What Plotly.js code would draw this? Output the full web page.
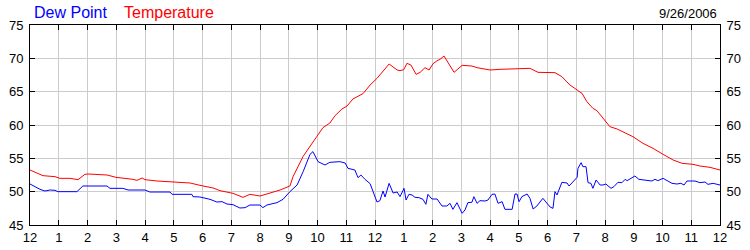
<!DOCTYPE html>
<html>
<head>
<meta charset="utf-8">
<script src="https://cdn.plot.ly/plotly-3.0.1.min.js"></script>
<style>html,body{margin:0;padding:0;background:#fff;}#chart{width:750px;height:250px;}</style>
</head>
<body>
<div id="chart"></div>
<script>
// Hour-of-day tick labels
const hourTicks = [0,1,2,3,4,5,6,7,8,9,10,11,12,13,14,15,16,17,18,19,20,21,22,23,24];
const hourLabels = ["12","1","2","3","4","5","6","7","8","9","10","11","12","1","2","3","4","5","6","7","8","9","10","11","12"];
const yTicks = [45,50,55,60,65,70,75];

// Temperature (°F) — time in hours since midnight
const tempHours = [0,0.45,0.87,1.04,1.39,1.67,1.91,2.02,2.68,2.99,3.58,3.72,3.90,4.00,4.42,4.97,5.57,5.91,6.37,6.61,7.06,7.41,7.65,8.00,8.35,8.70,9.04,9.15,9.50,9.74,9.98,10.19,10.43,10.61,10.85,11.03,11.23,11.58,11.83,12.07,12.17,12.49,12.77,12.87,13.00,13.11,13.25,13.43,13.57,13.74,13.88,14.02,14.16,14.26,14.40,14.61,14.75,15.03,15.37,15.55,16.00,16.35,16.70,17.04,17.39,17.67,18.02,18.26,18.50,18.78,19.03,19.20,19.37,19.58,19.72,19.93,20.17,20.42,20.63,20.97,21.32,21.67,22.02,22.37,22.68,23.06,23.30,23.65,24.00];
const tempValues = [53.25,52.4,52.25,52.0,52.0,51.8,52.6,52.65,52.5,52.15,51.85,51.7,52.05,51.8,51.6,51.45,51.3,50.95,50.55,50.15,49.75,49.15,49.6,49.35,49.75,50.25,50.85,52.25,55.3,56.9,58.3,59.6,60.3,61.4,62.4,62.85,63.9,64.7,66.0,67.0,67.5,69.15,68.25,68.15,68.3,69.25,69.0,67.6,67.9,68.6,68.25,69.2,69.65,69.85,70.35,68.75,67.9,68.95,68.85,68.6,68.25,68.35,68.4,68.5,68.5,67.9,67.9,67.85,67.25,66.0,65.25,64.75,63.5,62.5,62.15,61.0,59.75,59.4,59.0,58.25,57.25,56.5,55.6,54.75,54.25,54.1,53.85,53.65,53.25];

// Dew point (°F)
const dewHours = [0,0.35,0.52,0.70,0.87,0.97,1.63,1.84,2.68,2.78,3.23,3.41,4.00,4.17,4.87,4.94,5.63,5.67,5.91,6.26,6.50,6.68,6.85,7.06,7.30,7.48,7.65,8.00,8.10,8.24,8.59,8.80,9.04,9.29,9.50,9.74,9.84,10.02,10.26,10.43,10.78,10.96,11.06,11.20,11.30,11.41,11.51,11.65,11.83,12.07,12.17,12.28,12.35,12.49,12.63,12.77,12.87,13.01,13.08,13.18,13.29,13.39,13.53,13.67,13.77,13.84,13.98,14.16,14.33,14.50,14.61,14.71,14.85,15.03,15.13,15.23,15.37,15.44,15.55,15.65,15.83,15.93,16.07,16.17,16.28,16.42,16.52,16.77,16.80,16.87,16.94,17.01,17.11,17.29,17.39,17.50,17.63,17.84,18.09,18.19,18.26,18.33,18.50,18.68,18.75,18.89,19.03,19.06,19.17,19.23,19.34,19.41,19.51,19.58,19.69,19.83,19.93,20.03,20.21,20.31,20.45,20.59,20.70,20.77,20.94,21.04,21.18,21.43,21.63,21.74,21.84,22.02,22.16,22.33,22.50,22.64,22.75,22.85,23.13,23.30,23.48,23.58,23.76,24.00];
const dewValues = [51.15,50.35,50.1,50.25,50.2,50.0,50.0,50.85,50.85,50.5,50.5,50.25,50.25,49.95,49.95,49.6,49.6,49.25,49.2,48.85,48.45,48.5,48.15,48.05,47.55,47.6,48.0,48.0,47.6,48.0,48.35,48.85,50.0,51.0,53.0,55.6,56.0,54.5,54.0,54.4,54.5,54.3,53.5,53.4,53.25,52.1,52.5,51.85,51.2,48.45,48.65,50.1,49.2,51.25,49.8,49.95,49.25,50.5,48.75,49.6,49.5,49.15,49.1,48.85,48.1,49.6,48.9,48.9,47.85,47.85,48.25,47.35,48.35,46.75,47.25,48.35,48.4,49.25,48.25,48.65,48.6,48.75,49.6,49.65,48.25,48.5,47.35,47.35,48.0,49.65,49.65,48.5,49.25,49.65,49.0,47.4,47.85,49.0,47.7,47.5,50.0,49.5,51.4,51.3,50.85,51.5,52.15,53.5,54.35,53.75,53.75,51.35,51.25,50.5,51.75,51.0,51.0,51.15,50.5,50.75,51.4,51.35,51.85,51.65,52.15,52.35,51.85,51.75,51.6,51.85,51.65,52.0,51.65,51.25,51.15,51.25,51.0,51.6,51.6,51.35,51.45,51.1,51.25,51.0];

const chartDate = "9/26/2006";
const seriesNames = ["Dew Point", "Temperature"];
const seriesColors = ["#0000ff", "#ff0000"];

const fontFam = '"Liberation Sans", Arial, sans-serif';

const traces = [
  {x: dewHours, y: dewValues, type: 'scatter', mode: 'lines', name: seriesNames[0],
   line: {color: seriesColors[0], width: 1}, xaxis: 'x', yaxis: 'y', hoverinfo: 'skip'},
  {x: tempHours, y: tempValues, type: 'scatter', mode: 'lines', name: seriesNames[1],
   line: {color: seriesColors[1], width: 1}, xaxis: 'x', yaxis: 'y2', hoverinfo: 'skip'}
];

const yCommon = {
  range: [45, 75], tickvals: yTicks, ticks: 'inside', ticklen: 5, tickcolor: '#000',
  showline: true, linecolor: '#000', linewidth: 1, zeroline: false,
  tickfont: {family: fontFam, size: 13, color: '#000'}, fixedrange: true
};

const layout = {
  width: 750, height: 250,
  margin: {l: 30, r: 30, t: 25, b: 25, pad: 0},
  paper_bgcolor: '#fff', plot_bgcolor: '#fff',
  showlegend: false, hovermode: false,
  font: {family: fontFam, size: 13, color: '#000'},
  xaxis: {
    range: [0, 24], tickvals: hourTicks, ticktext: hourLabels,
    ticks: 'inside', ticklen: 5, tickcolor: '#000',
    showline: true, linecolor: '#000', linewidth: 1, mirror: 'ticks',
    showgrid: true, gridcolor: '#cccccc', gridwidth: 1, zeroline: false,
    tickfont: {family: fontFam, size: 13, color: '#000'}, fixedrange: true
  },
  yaxis: Object.assign({}, yCommon, {side: 'left', showgrid: true, gridcolor: '#cccccc', gridwidth: 1, ticklabelstandoff: 3}),
  yaxis2: Object.assign({}, yCommon, {side: 'right', overlaying: 'y', showgrid: false, ticklabelstandoff: 3}),
  annotations: [
    {text: seriesNames[0], xref: 'paper', yref: 'paper', x: 2/690, y: 1 + 13/200,
     xanchor: 'left', yanchor: 'middle', showarrow: false,
     font: {family: fontFam, size: 16, color: seriesColors[0]}},
    {text: seriesNames[1], xref: 'paper', yref: 'paper', x: 92/690, y: 1 + 13/200,
     xanchor: 'left', yanchor: 'middle', showarrow: false,
     font: {family: fontFam, size: 16, color: seriesColors[1]}},
    {text: chartDate, xref: 'paper', yref: 'paper', x: 1 - 1/690, y: 1 + 11.5/200,
     xanchor: 'right', yanchor: 'middle', showarrow: false,
     font: {family: fontFam, size: 13, color: '#000'}}
  ]
};

Plotly.newPlot('chart', traces, layout, {displayModeBar: false, staticPlot: true});
</script>
</body>
</html>
